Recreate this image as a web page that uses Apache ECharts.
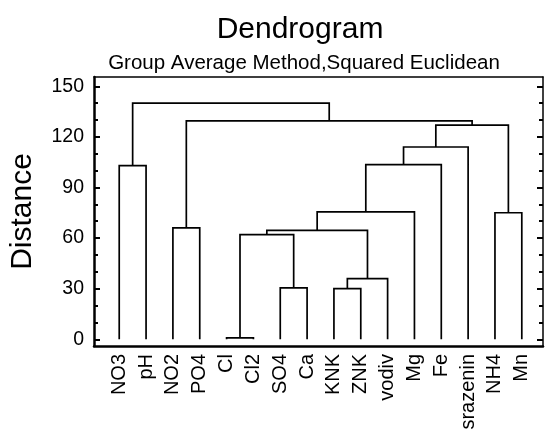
<!DOCTYPE html>
<html>
<head>
<meta charset="utf-8">
<script src="https://cdn.jsdelivr.net/npm/echarts@6/dist/echarts.min.js"></script>
<style>
html, body { margin: 0; padding: 0; background: #fff; }
#main { width: 548px; height: 434px; }
</style>
</head>
<body>
<div id="main"></div>
<script>
var leaves = ['NO3', 'pH', 'NO2', 'PO4', 'Cl', 'Cl2', 'SO4', 'Ca', 'KNK', 'ZNK', 'vodiv', 'Mg', 'Fe', 'srazenin', 'NH4', 'Mn'];
// each merge joins two nodes: positive = leaf number, negative = earlier merge number
var mergeLeft = [1, 3, 5, 7, 9, -5, -3, -7, -8, -9, -10, 15, -11, -2, -1];
var mergeRight = [2, 4, 6, 8, 10, 11, -4, -6, 12, 13, 14, 16, -12, -13, -14];
var mergeHeight = [103, 66, 0.8, 30.5, 30, 36, 62, 64.5, 75.5, 103.5, 114, 75, 127, 129.5, 140];
var yMajor = [0, 30, 60, 90, 120, 150];
var yMinor = [10, 20, 40, 50, 70, 80, 100, 110, 130, 140];

var font = 'Liberation Sans';
var leafTicks = leaves.map(function (l, i) { return i + 1; });

// positions of merges along x (average of children)
var centers = [];
function node(id) {
    if (id > 0) return { x: id, h: 0 };
    return { x: centers[-id - 1], h: mergeHeight[-id - 1] };
}
var links = [];
for (var i = 0; i < mergeHeight.length; i++) {
    var a = node(mergeLeft[i]);
    var b = node(mergeRight[i]);
    centers.push((a.x + b.x) / 2);
    links.push([a.x, a.h, b.x, b.h, mergeHeight[i]]);
}

var myChart = echarts.init(document.getElementById('main'));
var xMin = 0.06, xMax = 16.79, yMin = -4, yMax = 155.5;

function yAx(pos, ticks, len, lineW, showLine, labels) {
    return {
        type: 'value', position: pos, min: yMin, max: yMax,
        axisLine: { show: showLine, onZero: false, lineStyle: { color: '#000', width: lineW } },
        axisTick: { show: true, inside: true, length: len, customValues: ticks, lineStyle: { color: '#000', width: 2 } },
        axisLabel: labels ? { customValues: yMajor, color: '#000', fontSize: 19.5, fontFamily: font, margin: 10 } : { show: false },
        splitLine: { show: false }
    };
}

var left = yAx('left', yMajor, 6, 2.5, true, true);
left.name = 'Distance';
left.nameLocation = 'middle';
left.nameGap = 56;
left.nameTextStyle = { color: '#000', fontSize: 30, fontFamily: font };

var option = {
    backgroundColor: '#fff',
    animation: false,
    title: [
        { text: 'Dendrogram', left: 300, top: 15, textAlign: 'center', padding: 0,
          textStyle: { color: '#000', fontSize: 30, fontWeight: 'normal', fontFamily: font } },
        { text: 'Group Average Method,Squared Euclidean', left: 304, top: 53, textAlign: 'center', padding: 0,
          textStyle: { color: '#000', fontSize: 20.5, fontWeight: 'normal', fontFamily: font } }
    ],
    grid: { left: 93, right: 5, top: 77, bottom: 88 },
    xAxis: [
        {
            type: 'value', position: 'bottom', min: xMin, max: xMax,
            axisLine: { onZero: false, lineStyle: { color: '#000', width: 2.5 } },
            axisTick: { show: false },
            splitLine: { show: false },
            axisLabel: {
                customValues: leafTicks, rotate: 90, color: '#000', fontSize: 20, fontFamily: font, margin: 8,
                formatter: function (v) { return leaves[Math.round(v) - 1]; }
            }
        },
        {
            type: 'value', position: 'top', min: xMin, max: xMax,
            axisLine: { onZero: false, lineStyle: { color: '#000', width: 1.5 } },
            axisTick: { show: false }, axisLabel: { show: false }, splitLine: { show: false }
        }
    ],
    yAxis: [
        left,
        yAx('left', yMinor, 4, 2.5, false, false),
        yAx('right', yMajor, 6, 1.5, true, false),
        yAx('right', yMinor, 4, 1.5, false, false)
    ],
    series: [{
        type: 'custom',
        xAxisIndex: 0,
        yAxisIndex: 0,
        data: links,
        encode: { x: [0, 2], y: [1, 3, 4] },
        renderItem: function (params, api) {
            var p1 = api.coord([api.value(0), api.value(1)]);
            var p2 = api.coord([api.value(0), api.value(4)]);
            var p3 = api.coord([api.value(2), api.value(4)]);
            var p4 = api.coord([api.value(2), api.value(3)]);
            return {
                type: 'polyline',
                shape: { points: [p1, p2, p3, p4] },
                style: { stroke: '#000', lineWidth: 1.7, fill: null }
            };
        }
    }]
};
myChart.setOption(option);
</script>
</body>
</html>
